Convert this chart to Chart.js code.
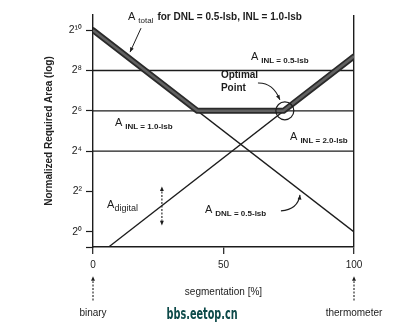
<!DOCTYPE html>
<html>
<head>
<meta charset="utf-8">
<script src="https://cdn.jsdelivr.net/npm/chart.js@4.4.1/dist/chart.umd.min.js"></script>
<style>
  html, body { margin: 0; padding: 0; background: #fff; }
  #wrap { width: 404px; height: 327px; }
</style>
</head>
<body>
<div id="wrap"><canvas id="areaChart"></canvas></div>
<script>
// segmentation in %, required area as log2 exponent (2^n)
const yTicks = [0, 2, 4, 6, 8, 10];
const xTicks = [0, 50, 100];
const segTotal = [0, 40, 73, 100];
const areaTotal = [10, 6, 6, 8.7];
const segDnl = [0, 100];
const areaDnl = [10, 0];
const segDigital = [6, 100];
const areaDigital = [-0.75, 8.7];
const segInl = [0, 100];
const inlLevels = [8, 6, 4];          // INL = 0.5, 1.0, 2.0 lsb
const optimalPoint = [73.5, 6];

const FONT = '"Liberation Sans", Arial, sans-serif';
const INK = '#1c1c1c';

const pts = (xs, ys) => xs.map((v, i) => ({ x: v, y: ys[i] }));

const thin = (data, order) => ({
  data, borderColor: INK, borderWidth: 1.3, pointRadius: 0, order
});

const datasets = [
  // optimal point circle
  { data: [{ x: optimalPoint[0], y: optimalPoint[1] }], showLine: false,
    pointRadius: 9, pointBorderWidth: 1.2, pointBorderColor: INK,
    pointBackgroundColor: 'rgba(0,0,0,0)', order: 0 },
  // A_total, thick band
  { data: pts(segTotal, areaTotal), borderColor: '#616161', borderWidth: 2.5,
    pointRadius: 0, borderJoinStyle: 'round', order: 1 },
  { data: pts(segTotal, areaTotal), borderColor: '#2a2a2a', borderWidth: 6,
    pointRadius: 0, borderJoinStyle: 'round', borderCapStyle: 'round', order: 2 },
  thin(pts(segDnl, areaDnl), 3),
  thin(pts(segDigital, areaDigital), 4),
  ...inlLevels.map((lv, i) => thin(pts(segInl, segInl.map(() => lv)), 5 + i))
];

// small helpers for the notes
function arrowHead(ctx, x0, y0, x1, y1, size) {
  const a = Math.atan2(y1 - y0, x1 - x0);
  ctx.beginPath();
  ctx.moveTo(x1, y1);
  ctx.lineTo(x1 - size * Math.cos(a - 0.4), y1 - size * Math.sin(a - 0.4));
  ctx.lineTo(x1 - size * Math.cos(a + 0.4), y1 - size * Math.sin(a + 0.4));
  ctx.closePath();
  ctx.fill();
}

function areaLabel(ctx, x, y, sub, subFont, gap, dy) {
  ctx.font = '11px ' + FONT;
  ctx.fillText('A', x, y);
  const w = ctx.measureText('A').width;
  ctx.font = subFont;
  ctx.fillText(sub, x + w + gap, y + dy);
  return x + w + gap + ctx.measureText(sub).width;
}

const notes = {
  id: 'notes',
  afterDatasetsDraw(chart) {
    const { ctx, scales: { x, y } } = chart;
    const X = v => x.getPixelForValue(v);
    const Y = v => y.getPixelForValue(v);
    ctx.save();
    ctx.fillStyle = INK;
    ctx.strokeStyle = INK;
    ctx.textBaseline = 'middle';
    ctx.textAlign = 'left';

    // A_total caption + arrow
    const end = areaLabel(ctx, X(13.4), Y(10.64), 'total', '8px ' + FONT, 3, 4);
    ctx.font = 'bold 10px ' + FONT;
    ctx.fillText('for DNL = 0.5-lsb, INL = 1.0-lsb', end + 4, Y(10.64));
    ctx.lineWidth = 1;
    ctx.beginPath();
    ctx.moveTo(X(18.4), Y(10.1));
    ctx.lineTo(X(14.2), Y(8.91));
    ctx.stroke();
    arrowHead(ctx, X(18.4), Y(10.1), X(14.2), Y(8.91), 5);

    // INL levels
    const inlFont = 'bold 8px ' + FONT;
    areaLabel(ctx, X(60.5), Y(8.66), 'INL = 0.5-lsb', inlFont, 3, 4);
    areaLabel(ctx, X(8.4), Y(5.39), 'INL = 1.0-lsb', inlFont, 3, 4);
    areaLabel(ctx, X(75.5), Y(4.70), 'INL = 2.0-lsb', inlFont, 3, 4);
    areaLabel(ctx, X(42.9), Y(1.08), 'DNL = 0.5-lsb', inlFont, 3, 4);
    areaLabel(ctx, X(5.4), Y(1.33), 'digital', '9px ' + FONT, 0, 3);

    // optimal point
    ctx.font = 'bold 10px ' + FONT;
    ctx.fillText('Optimal', X(49), Y(7.77));
    ctx.fillText('Point', X(49), Y(7.13));
    ctx.lineWidth = 1.1;
    ctx.beginPath();
    ctx.moveTo(X(63.2), Y(7.38));
    ctx.quadraticCurveTo(X(69), Y(7.4), X(71.6), Y(6.55));
    ctx.stroke();
    arrowHead(ctx, X(69), Y(7.2), X(71.6), Y(6.55), 5);

    // DNL curved arrow
    ctx.beginPath();
    ctx.moveTo(X(72), Y(1.04));
    ctx.quadraticCurveTo(X(78.5), Y(1.1), X(79.3), Y(1.83));
    ctx.stroke();
    arrowHead(ctx, X(79), Y(1.4), X(79.3), Y(1.83), 5);

    // double arrow across A_digital
    ctx.setLineDash([2, 1.5]);
    ctx.beginPath();
    ctx.moveTo(X(26.4), Y(2.0));
    ctx.lineTo(X(26.4), Y(0.55));
    ctx.stroke();
    ctx.setLineDash([]);
    arrowHead(ctx, X(26.4), Y(1.2), X(26.4), Y(2.25), 5);
    arrowHead(ctx, X(26.4), Y(1.2), X(26.4), Y(0.32), 5);

    // binary / thermometer pointers under the axis
    ctx.font = '10px ' + FONT;
    ctx.textAlign = 'center';
    for (const [v, txt] of [[0, 'binary'], [100, 'thermometer']]) {
      ctx.setLineDash([2, 1.5]);
      ctx.beginPath();
      ctx.moveTo(X(v), Y(-3.4));
      ctx.lineTo(X(v), Y(-2.45));
      ctx.stroke();
      ctx.setLineDash([]);
      arrowHead(ctx, X(v), Y(-3.0), X(v), Y(-2.2), 5);
      ctx.fillText(txt, X(v), Y(-4.02));
    }

    // site mark
    ctx.font = 'bold 15px "Liberation Sans Narrow", "DejaVu Sans Condensed", sans-serif';
    const w = ctx.measureText('bbs.eetop.cn').width;
    ctx.translate(X(41.8), Y(-4.12));
    ctx.scale(71 / w, 1);
    ctx.fillStyle = '#0d4a49';
    ctx.fillText('bbs.eetop.cn', 0, 0);
    ctx.restore();
  }
};

new Chart(document.getElementById('areaChart'), {
  type: 'line',
  data: { datasets },
  plugins: [notes],
  options: {
    responsive: true,
    maintainAspectRatio: false,
    animation: false,
    layout: { padding: { left: 33, right: 50, top: 15, bottom: 29 } },
    plugins: { legend: { display: false }, tooltip: { enabled: false } },
    scales: {
      x: {
        type: 'linear', min: 0, max: 100,
        afterBuildTicks: s => { s.ticks = xTicks.map(v => ({ value: v })); },
        afterFit: s => { s.height = 51; },
        border: { color: INK, width: 1.4 },
        grid: {
          color: c => c.tick && c.tick.value === 100 ? INK : 'rgba(0,0,0,0)',
          lineWidth: 1.4, tickColor: INK, tickLength: 7, tickWidth: 1.2
        },
        ticks: { color: '#222', font: { family: FONT, size: 10 }, padding: 5, maxRotation: 0 },
        title: { display: true, text: 'segmentation [%]', color: '#222',
                 font: { family: FONT, size: 10 }, padding: { top: 0, bottom: 0 } }
      },
      y: {
        type: 'linear', min: -0.75, max: 10.75,
        afterBuildTicks: s => { s.ticks = [-0.75, ...yTicks].map(v => ({ value: v })); },
        afterFit: s => { s.width = 60; },
        border: { color: INK, width: 1.4 },
        grid: { drawOnChartArea: false, tickColor: INK, tickLength: 7, tickWidth: 1.2 },
        ticks: {
          color: '#222', font: { family: FONT, size: 10.5 }, padding: 4,
          callback: v => {
            const sup = { 0: '⁰', 2: '²', 4: '⁴', 6: '⁶', 8: '⁸', 10: '¹⁰' };
            return sup[v] !== undefined ? '2' + sup[v] : '';
          }
        },
        title: { display: true, text: 'Normalized Required Area (log)', color: '#222',
                 font: { family: FONT, size: 10, weight: 'bold' }, padding: { top: 10, bottom: 0 } }
      }
    }
  }
});
</script>
</body>
</html>
